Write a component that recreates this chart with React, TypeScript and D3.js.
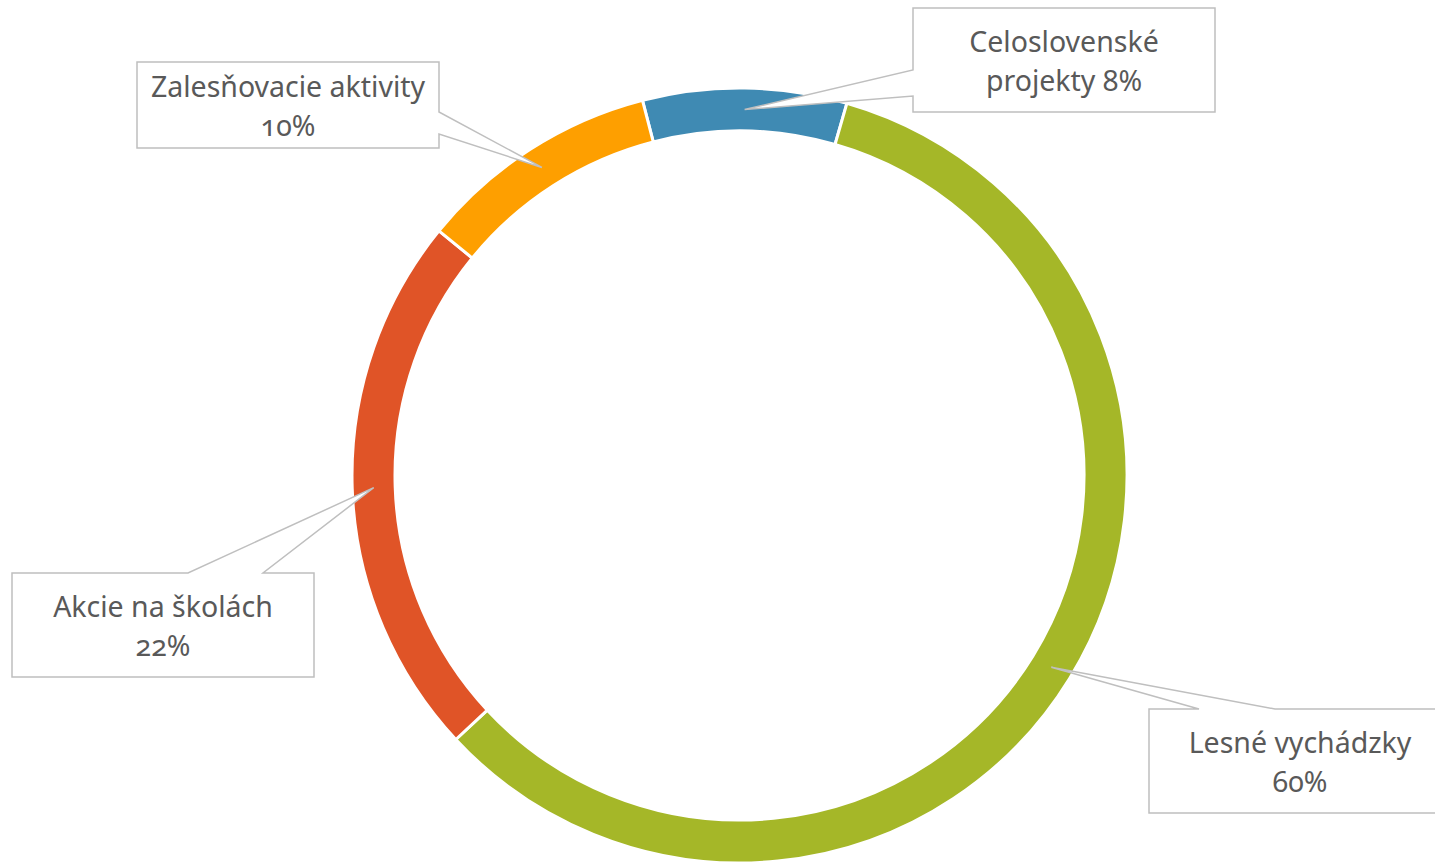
import React from "react";
import * as d3 from "d3";

const categories = ["Celoslovenské projekty", "Lesné vychádzky", "Akcie na školách", "Zalesňovacie aktivity"];
const values = [8.5, 58.6, 22.8, 10.1];
const percentLabels = ["8%", "60%", "22%", "10%"];
const colors = ["#3F8AB3", "#A5B728", "#E05427", "#FE9F00"];

const W = 1435;
const H = 862;
const cx = 739.5;
const cy = 475.5;
const outerR = 387.5;
const innerR = 344.5;
const startDeg = -14.5;

type Side = "left" | "right" | "top";
interface Layout {
  x: number; y: number; w: number; h: number;
  side: Side; b1: number; b2: number; firstLineWords: number;
}
const layouts: Layout[] = [
  { x: 913, y: 8, w: 302, h: 104, side: "left", b1: 62, b2: 88, firstLineWords: 1 },
  { x: 1149, y: 709, w: 302, h: 104, side: "top", b1: 50, b2: 126, firstLineWords: 99 },
  { x: 12, y: 573, w: 302, h: 104, side: "top", b1: 176, b2: 251, firstLineWords: 99 },
  { x: 137, y: 62, w: 302, h: 86, side: "right", b1: 50, b2: 72, firstLineWords: 99 },
];

function calloutPath(l: Layout, tip: [number, number]): string {
  const { x, y, w, h } = l;
  const p = d3.path();
  if (l.side === "top") {
    p.moveTo(x, y);
    p.lineTo(x + l.b1, y);
    p.lineTo(tip[0], tip[1]);
    p.lineTo(x + l.b2, y);
    p.lineTo(x + w, y);
    p.lineTo(x + w, y + h);
    p.lineTo(x, y + h);
    p.closePath();
  } else if (l.side === "right") {
    p.moveTo(x, y);
    p.lineTo(x + w, y);
    p.lineTo(x + w, y + l.b1);
    p.lineTo(tip[0], tip[1]);
    p.lineTo(x + w, y + l.b2);
    p.lineTo(x + w, y + h);
    p.lineTo(x, y + h);
    p.closePath();
  } else {
    p.moveTo(x, y);
    p.lineTo(x + w, y);
    p.lineTo(x + w, y + h);
    p.lineTo(x, y + h);
    p.lineTo(x, y + l.b2);
    p.lineTo(tip[0], tip[1]);
    p.lineTo(x, y + l.b1);
    p.closePath();
  }
  return p.toString();
}

export default function App() {
  const start = (startDeg * Math.PI) / 180;
  const pie = d3
    .pie<number>()
    .sort(null)
    .value((d) => d)
    .startAngle(start)
    .endAngle(start + 2 * Math.PI);
  const arcs = pie(values);
  const arc = d3.arc<d3.PieArcDatum<number>>().innerRadius(innerR).outerRadius(outerR);
  const midArc = d3
    .arc<d3.PieArcDatum<number>>()
    .innerRadius((innerR + outerR) / 2)
    .outerRadius((innerR + outerR) / 2);

  return (
    <svg
      width={W}
      height={H}
      style={{ position: "absolute", left: 0, top: 0, background: "#fff" }}
      fontFamily="'Noto Sans', sans-serif"
    >
      <g transform={`translate(${cx},${cy})`}>
        {arcs.map((a, i) => (
          <path key={i} d={arc(a) || ""} fill={colors[i]} stroke="#fff" strokeWidth={3} strokeLinejoin="miter" />
        ))}
      </g>
      {arcs.map((a, i) => {
        const l = layouts[i];
        const c = midArc.centroid(a);
        const tip: [number, number] = [c[0] + cx, c[1] + cy];
        const words = categories[i].split(" ");
        const first = words.slice(0, l.firstLineWords).join(" ");
        const rest = words.slice(l.firstLineWords).join(" ");
        const lines = rest ? [first, rest + " " + percentLabels[i]] : [first, percentLabels[i]];
        const mx = l.x + l.w / 2;
        const my = l.y + l.h / 2 + 11;
        return (
          <g key={i}>
            <path d={calloutPath(l, tip)} fill="#fff" stroke="#BFBFBF" strokeWidth={1.5} />
            {lines.map((t, j) => (
              <text
                key={j}
                x={mx}
                y={my + (j === 0 ? -19.5 : 19.5)}
                textAnchor="middle"
                fontSize={28.5}
                fill="#595959"
                style={{ fontVariantNumeric: "oldstyle-nums" }}
              >
                {t}
              </text>
            ))}
          </g>
        );
      })}
    </svg>
  );
}
